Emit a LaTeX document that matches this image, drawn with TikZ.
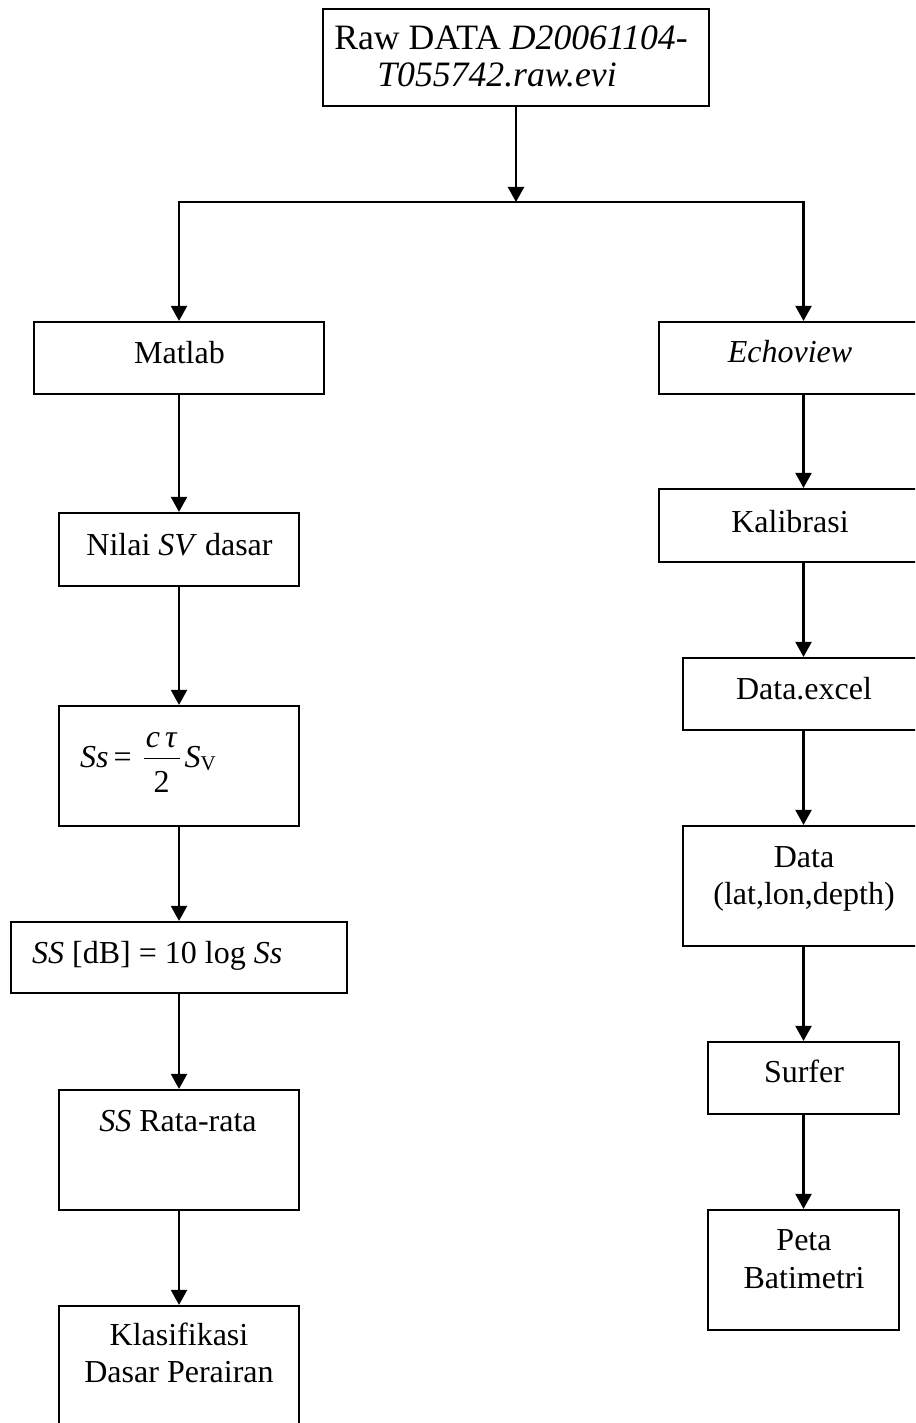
\documentclass[tikz,border=0pt]{standalone}
\usepackage{fontspec}
\setmainfont{Liberation Serif}
\usetikzlibrary{arrows.meta}
\begin{document}
\begin{tikzpicture}[x=1pt,y=-1pt,
  box/.style={draw, line width=2.2pt, inner sep=0pt, rectangle},
  lbl/.style={inner sep=0pt, anchor=base, font=\fontsize{32}{37}\selectfont},
  big/.style={font=\fontsize{35.7}{37}\selectfont},
  arr/.style={line width=2.2pt, -{Triangle[length=15pt,width=16pt]}}]
\useasboundingbox (0,0) rectangle (915,1423);
\clip (0,0) rectangle (915,1423);
% boxes
\node[box, minimum width=386pt, minimum height=97pt]  (raw)    at (516,57.5) {};
\node[box, minimum width=290pt, minimum height=72pt]  (matlab) at (179,358) {};
\node[box, minimum width=289pt, minimum height=72pt]  (echo)   at (803.5,358) {};
\node[box, minimum width=240pt, minimum height=73pt]  (nilai)  at (179,549.5) {};
\node[box, minimum width=289pt, minimum height=73pt]  (kal)    at (803.5,525.5) {};
\node[box, minimum width=240pt, minimum height=120pt] (ssf)    at (179,766) {};
\node[box, minimum width=241pt, minimum height=72pt]  (excel)  at (803.5,694) {};
\node[box, minimum width=241pt, minimum height=120pt] (data)   at (803.5,886) {};
\node[box, minimum width=336pt, minimum height=71pt]  (ssdb)   at (179,957.5) {};
\node[box, minimum width=191pt, minimum height=72pt]  (surfer) at (803.5,1078) {};
\node[box, minimum width=240pt, minimum height=120pt] (rata)   at (179,1150) {};
\node[box, minimum width=191pt, minimum height=120pt] (peta)   at (803.5,1270) {};
\node[box, minimum width=240pt, minimum height=144pt] (klas)   at (179,1378) {};
% texts
\node[lbl, big] (t-raw1) at (511,50) {Raw DATA \textit{D20061104-}};
\node[lbl, big] (t-raw2) at (497,87) {\textit{T055742.raw.evi}};
\node[lbl] (t-matlab) at (179.5,363) {Matlab};
\node[lbl] (t-echo) at (790,362) {\textit{Echoview}};
\node[lbl] (t-nilai) at (179.5,555) {Nilai \textit{SV} dasar};
\node[lbl] (t-kal) at (790,532) {Kalibrasi};
\node[lbl, anchor=base west] (t-ssf) at (80,767) {\textit{Ss}\hspace{5pt}=\hspace{12pt}\rlap{\raisebox{20pt}{\makebox[36pt]{\textit{c}\hspace{5pt}\textit{τ}}}}\rlap{\raisebox{-25pt}{\makebox[36pt]{2}}}\rule[8pt]{36pt}{1.2pt}\hspace{5pt}\textit{S}\raisebox{-3pt}{\fontsize{21}{21}\selectfont V}};
\node[lbl] (t-excel) at (804,699) {Data.excel};
\node[lbl] (t-data1) at (804,867) {Data};
\node[lbl] (t-data2) at (804,904) {(lat,lon,depth)};
\node[lbl, anchor=base west] (t-ssdb) at (32,963) {\textit{SS} [dB] = 10 log \textit{Ss}};
\node[lbl] (t-rata) at (178,1131) {\textit{SS} Rata-rata};
\node[lbl] (t-surfer) at (804,1082) {Surfer};
\node[lbl] (t-peta1) at (804,1250) {Peta};
\node[lbl] (t-peta2) at (804,1288) {Batimetri};
\node[lbl] (t-klas1) at (179,1345) {Klasifikasi};
\node[lbl] (t-klas2) at (179,1382) {Dasar Perairan};
% connectors
\coordinate (split) at (516,202);
\draw[arr] (raw.south) -- (split);
\draw[arr] (split) -| (matlab.north);
\draw[arr] (split) -| (echo.north);
\draw[arr] (matlab.south) -- (nilai.north);
\draw[arr] (nilai.south) -- (ssf.north);
\draw[arr] (ssf.south) -- (ssdb.north);
\draw[arr] (ssdb.south) -- (rata.north);
\draw[arr] (rata.south) -- (klas.north);
\draw[arr] (echo.south) -- (kal.north);
\draw[arr] (kal.south) -- (excel.north);
\draw[arr] (excel.south) -- (data.north);
\draw[arr] (data.south) -- (surfer.north);
\draw[arr] (surfer.south) -- (peta.north);
\end{tikzpicture}
\end{document}
